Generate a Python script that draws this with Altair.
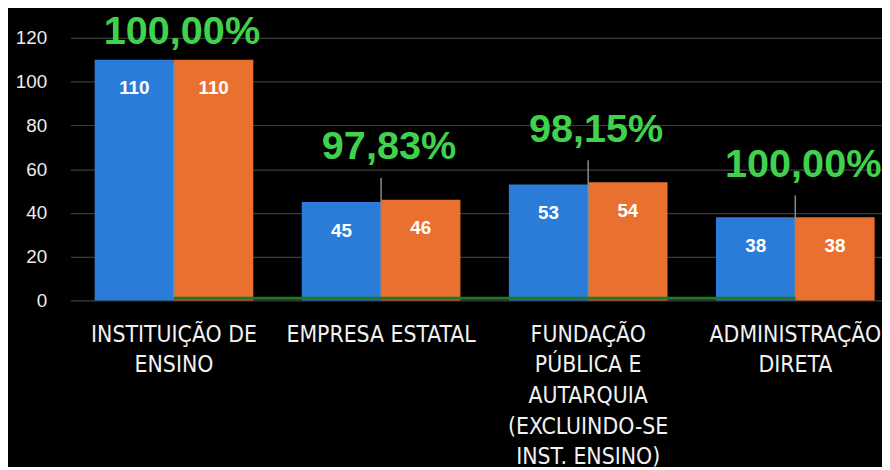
import json
import altair as alt
import pandas as pd

categories = [
    "INSTITUIÇÃO DE ENSINO",
    "EMPRESA ESTATAL",
    "FUNDAÇÃO PÚBLICA E AUTARQUIA (EXCLUINDO-SE INST. ENSINO)",
    "ADMINISTRAÇÃO DIRETA",
]
label_lines = [
    ["INSTITUIÇÃO DE", "ENSINO"],
    ["EMPRESA ESTATAL"],
    ["FUNDAÇÃO", "PÚBLICA E", "AUTARQUIA", "(EXCLUINDO-SE", "INST. ENSINO)"],
    ["ADMINISTRAÇÃO", "DIRETA"],
]
series = ["Atendidos", "Total"]
atendidos = [110, 45, 53, 38]
total = [110, 46, 54, 38]
y_ticks = [0, 20, 40, 60, 80, 100, 120]

BLUE = "#2B7CD9"
ORANGE = "#EA7030"
GREEN_TXT = "#40D24C"
GREEN_LINE = "#1E7A22"

bars = pd.DataFrame({
    "cat": categories * 2,
    "serie": [series[0]] * 4 + [series[1]] * 4,
    "valor": atendidos + total,
})

pct = pd.DataFrame({"cat": categories, "a": atendidos, "t": total})
pct["frac"] = pct["a"] / pct["t"]
pct["txt"] = pct["frac"].map(lambda p: f"{p * 100:.2f}%".replace(".", ","))
pct["mx"] = pct[["a", "t"]].max(axis=1)
pct["label_y"] = (pct["mx"] + 24).clip(upper=122.5)
pct["lead_top"] = pct["label_y"] - 14

expr = ""
for c, lines in zip(categories, label_lines):
    expr += f"datum.value === {json.dumps(c, ensure_ascii=False)} ? {json.dumps(lines, ensure_ascii=False)} : "
expr += "datum.value"

xscale = alt.Scale(domain=categories, range=[1, 837], paddingInner=0.234, paddingOuter=0.117)
yscale = alt.Scale(domain=[0, 120], nice=False)

x_enc = alt.X("cat:N", scale=xscale, sort=categories, title=None,
              axis=alt.Axis(labelExpr=expr, labelAngle=0, labelColor="#F2F2F2",
                            labelFont="DejaVu Sans Condensed, Roboto, sans-serif", labelFontSize=23,
                            labelLineHeight=31, labelPadding=23, labelLimit=400,
                            labelOverlap=False, ticks=False, domain=False,
                            labelBaseline="top"))
y_enc = alt.Y("valor:Q", scale=yscale, title=None,
              axis=alt.Axis(values=y_ticks, labelColor="#EDEDED", labelFontSize=19,
                            labelFont="Liberation Sans", labelPadding=23, ticks=False,
                            domain=False, grid=True, gridColor="#3C3C3C", gridWidth=1.2))

bar_layer = alt.Chart(bars).mark_bar().encode(
    x=x_enc,
    xOffset=alt.XOffset("serie:N", sort=series, scale=alt.Scale(paddingInner=0, paddingOuter=0)),
    y=y_enc,
    color=alt.Color("serie:N", sort=series,
                    scale=alt.Scale(domain=series, range=[BLUE, ORANGE]), legend=None),
)

bar_text = alt.Chart(bars).mark_text(
    color="white", fontSize=19, fontWeight="bold", font="Liberation Sans",
    baseline="middle", dy=29,
).encode(
    x=alt.X("cat:N", scale=xscale, sort=categories),
    xOffset=alt.XOffset("serie:N", sort=series),
    y=alt.Y("valor:Q", scale=yscale),
    text=alt.Text("valor:Q"),
)

line_layer = alt.Chart(pct).mark_line(color=GREEN_LINE, strokeWidth=3).encode(
    x=alt.X("cat:N", scale=xscale, sort=categories),
    y=alt.Y("frac:Q", scale=yscale),
)

leader = alt.Chart(pct).mark_rule(color="#8A8A8A", strokeWidth=1.5).encode(
    x=alt.X("cat:N", scale=xscale, sort=categories),
    y=alt.Y("lead_top:Q", scale=yscale),
    y2=alt.Y2("frac:Q"),
)

pct_text = alt.Chart(pct).mark_text(
    color=GREEN_TXT, fontSize=40, fontWeight="bold", font="Liberation Sans",
    baseline="middle", dx=8,
).encode(
    x=alt.X("cat:N", scale=xscale, sort=categories),
    y=alt.Y("label_y:Q", scale=yscale),
    text="txt:N",
)

chart = alt.layer(bar_layer, bar_text, leader, line_layer, pct_text).properties(
    width=820, height=265, background="black",
    autosize=alt.AutoSizeParams(type="none"),
    padding={"left": 62, "top": 28, "right": 0, "bottom": 166},
).configure_view(stroke=None)

chart.save("out.html", embed_options={"renderer": "svg", "actions": False})
